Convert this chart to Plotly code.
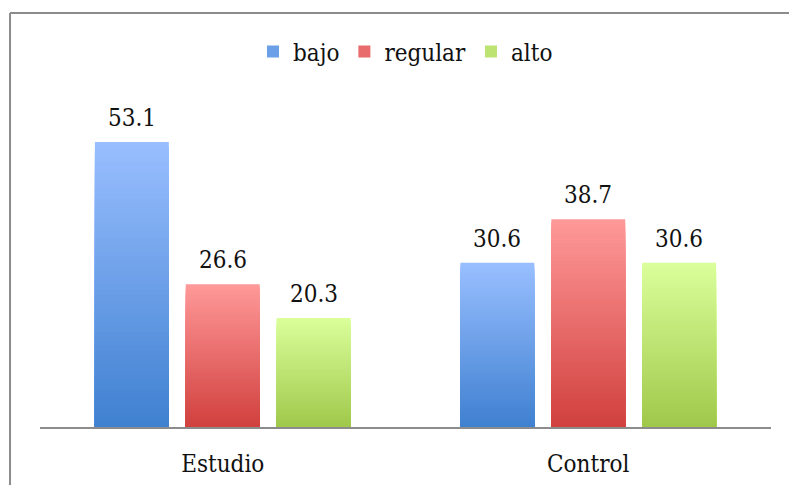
import plotly.graph_objects as go

# Data
categories = ["Estudio", "Control"]
series_names = ["bajo", "regular", "alto"]
bajo = [53.1, 30.6]
regular = [26.6, 38.7]
alto = [20.3, 30.6]
series_values = [bajo, regular, alto]

# Vertical gradient per series: (bottom colour, top colour)
gradients = [
    ((0x3F, 0x80, 0xD0), (0x99, 0xBF, 0xFF)),
    ((0xD0, 0x40, 0x3E), (0xFF, 0x99, 0x99)),
    ((0xA0, 0xC8, 0x4A), (0xDA, 0xFF, 0x9B)),
]

N_LEVELS = 60
FONT = "DejaVu Serif Condensed, DejaVu Serif, serif"
SLOT_PX = 91  # horizontal distance between neighbouring bars in a group


def mix(c0, c1, t):
    return "rgb({},{},{})".format(*[round(a + (b - a) * t) for a, b in zip(c0, c1)])


fig = go.Figure()

for name, values, (c_bot, c_top) in zip(series_names, series_values, gradients):
    # Overlapping bars in the same offset group: the tallest (lightest) first,
    # progressively shorter and darker ones on top, giving a bottom-to-top gradient.
    for k in range(N_LEVELS):
        frac = (N_LEVELS - k) / N_LEVELS
        t = (N_LEVELS - k - 0.5) / N_LEVELS
        fig.add_trace(go.Bar(
            x=categories,
            y=[v * frac for v in values],
            name=name,
            offsetgroup=name,
            legendgroup=name,
            showlegend=(k == N_LEVELS // 2),
            marker=dict(color=mix(c_bot, c_top, t), line=dict(width=0)),
            hoverinfo="skip" if k else "x+y+name",
        ))

# Value labels above each bar
annotations = []
for j, values in enumerate(series_values):
    for cat, v in zip(categories, values):
        annotations.append(dict(
            x=cat, y=v, xref="x", yref="y",
            text=f"{v:.1f}", showarrow=False,
            xshift=(j - 1) * SLOT_PX, yshift=8, yanchor="bottom",
            font=dict(family=FONT, size=24, color="#111111"),
        ))

fig.update_layout(
    width=789, height=485,
    margin=dict(l=40, r=18, t=105, b=58),
    paper_bgcolor="white", plot_bgcolor="white",
    barmode="group", bargap=0.254, bargroupgap=0.187,
    font=dict(family=FONT, size=24, color="#111111"),
    showlegend=True,
    legend=dict(
        orientation="h", x=0.5, xanchor="center", y=1.165, yanchor="middle",
        font=dict(family=FONT, size=24, color="#111111"),
        itemwidth=30, traceorder="normal",
    ),
    annotations=annotations,
    shapes=[
        # outer frame (left and top edges)
        dict(type="line", xref="paper", yref="paper", x0=-0.041, x1=-0.041, y0=-0.3, y1=1.2857,
             line=dict(color="#8c8c8c", width=2)),
        dict(type="line", xref="paper", yref="paper", x0=-0.041, x1=1.1, y0=1.2857, y1=1.2857,
             line=dict(color="#8c8c8c", width=2)),
    ],
)

fig.update_xaxes(
    type="category", range=[-0.5, 1.5], automargin=False,
    showline=True, linecolor="#8c8c8c", linewidth=2,
    showgrid=False, ticks="", ticklen=0, ticklabelstandoff=14,
    tickfont=dict(family=FONT, size=24, color="#111111"),
)
fig.update_yaxes(
    range=[0, 60], visible=False, showgrid=False, zeroline=False, automargin=False,
)

fig.write_html("out.html")
